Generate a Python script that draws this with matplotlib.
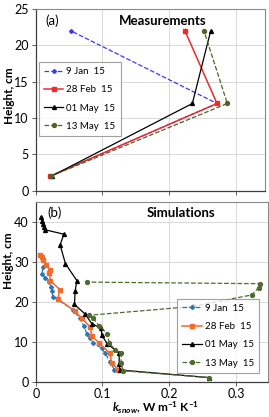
import matplotlib
matplotlib.use('Agg')
import matplotlib.pyplot as plt

plt.rcParams['font.family'] = ['Lato', 'DejaVu Sans']
plt.rcParams['mathtext.fontset'] = 'custom'
plt.rcParams['mathtext.it'] = 'Lato:italic'
plt.rcParams['mathtext.bf'] = 'Lato:bold'
plt.rcParams['mathtext.bfit'] = 'Lato:bold:italic'
plt.rcParams['mathtext.rm'] = 'Lato'

labels = ['9 Jan  15', '28 Feb  15', '01 May  15', '13 May  15']

# (a) measurements
meas_y = [2, 12, 22]
meas_jan = [0.022, 0.272, 0.053]
meas_feb = [0.022, 0.272, 0.224]
meas_may01 = [0.024, 0.235, 0.2625]
meas_may13 = [0.023, 0.2875, 0.2525]

# (b) simulations
sim_jan_x = [0.118, 0.111, 0.104, 0.099, 0.0865, 0.0815, 0.0765, 0.072, 0.066, 0.056,
             0.0255, 0.0245, 0.023, 0.0205, 0.0145, 0.0095, 0.0105]
sim_jan_y = [2.9, 5.0, 7.1, 8.3, 9.6, 10.8, 12.0, 13.9, 15.8, 18.0,
             21.2, 22.6, 23.6, 24.9, 25.9, 27.0, 28.6]
sim_feb_x = [0.124, 0.114, 0.111, 0.0955, 0.084, 0.0815, 0.069, 0.059, 0.033, 0.036,
             0.022, 0.020, 0.021, 0.016, 0.0115, 0.009, 0.0065]
sim_feb_y = [2.9, 4.6, 7.1, 9.6, 11.4, 13.7, 15.8, 17.6, 20.7, 23.0,
             25.3, 27.2, 28.0, 29.2, 30.5, 31.2, 31.8]
sim_may01_x = [0.259, 0.126, 0.125, 0.125, 0.107, 0.099, 0.098, 0.084, 0.074, 0.058,
               0.059, 0.0615, 0.0445, 0.0365, 0.042, 0.014, 0.0125, 0.0105, 0.010, 0.008]
sim_may01_y = [1.0, 2.9, 4.4, 7.1, 9.5, 11.6, 13.3, 14.5, 16.9, 19.3,
               22.6, 25.3, 29.5, 34.2, 36.9, 38.0, 38.6, 39.4, 40.1, 41.2]
sim_may13_x = [0.259, 0.131, 0.128, 0.128, 0.119, 0.110, 0.1075, 0.095, 0.0865, 0.0805,
               0.2355, 0.324, 0.334, 0.3365, 0.0765]
sim_may13_y = [1.0, 2.7, 4.6, 7.1, 8.0, 9.6, 12.0, 13.9, 15.8, 16.6,
               18.8, 21.7, 23.5, 24.5, 24.9]

fig = plt.figure(figsize=(2.69, 4.17), dpi=100)
ax1 = fig.add_axes([0.133, 0.543, 0.852, 0.435])
ax2 = fig.add_axes([0.133, 0.085, 0.863, 0.431])

lw = 0.9
ms = 2.8

def style(ax):
    ax.grid(True, color='#d9d9d9', linewidth=0.7)
    ax.set_axisbelow(True)
    for s in ['top', 'right']:
        ax.spines[s].set_color('#8a8a8a')
        ax.spines[s].set_linewidth(0.8)
    for s in ['left', 'bottom']:
        ax.spines[s].set_color('#404040')
        ax.spines[s].set_linewidth(0.9)
    ax.tick_params(direction='out', length=3, width=0.7, color='#606060',
                   labelsize=9, pad=2)

# top panel
ax1.plot(meas_jan, meas_y, color='#3b3bf0', ls='--', lw=lw, marker='D', ms=2, label=labels[0])
ax1.plot(meas_feb, meas_y, color='#ee2a2a', ls='-', lw=1.1, marker='s', ms=ms, label=labels[1])
ax1.plot(meas_may01, meas_y, color='black', ls='-', lw=lw, marker='^', ms=ms, label=labels[2])
ax1.plot(meas_may13, meas_y, color='#4f6228', ls='--', lw=lw, marker='o', ms=ms, label=labels[3])
ax1.set_xlim(0, 0.344)
ax1.set_ylim(0, 25)
ax1.set_xticks([0, 0.1, 0.2, 0.3])
ax1.set_xticklabels([])
ax1.set_yticks([0, 5, 10, 15, 20, 25])
style(ax1)
ax1.set_ylabel('Height, cm', fontsize=8.5, fontweight='bold')
ax1.yaxis.set_label_coords(-0.092, 0.525)
ax1.text(0.04, 0.936, '(a)', transform=ax1.transAxes, fontsize=9.5, va='center')
ax1.text(0.553, 0.936, 'Measurements', transform=ax1.transAxes, fontsize=9.5,
         va='center', ha='center', fontweight='bold')
leg1 = ax1.legend(loc='upper left', bbox_to_anchor=(0.012, 0.71), fontsize=7,
                  frameon=True, fancybox=False, edgecolor='#8a8a8a', numpoints=1,
                  handlelength=2.0, handletextpad=0.3, labelspacing=0.95,
                  borderpad=0.55, borderaxespad=0)
leg1.get_frame().set_linewidth(0.8)

# bottom panel
ax2.plot(sim_jan_x, sim_jan_y, color='#2e75b6', ls='--', lw=lw, marker='D', ms=2, label=labels[0])
ax2.plot(sim_feb_x, sim_feb_y, color='#f26b2a', ls='-', lw=1.1, marker='s', ms=ms, label=labels[1])
ax2.plot(sim_may01_x, sim_may01_y, color='black', ls='-', lw=lw, marker='^', ms=ms, label=labels[2])
ax2.plot(sim_may13_x, sim_may13_y, color='#4e6b2e', ls='--', lw=lw, marker='o', ms=ms, label=labels[3])
ax2.set_xlim(0, 0.348)
ax2.set_ylim(0, 45)
ax2.set_xticks([0, 0.1, 0.2, 0.3])
ax2.set_xticklabels(['0', '0.1', '0.2', '0.3'])
ax2.set_yticks([0, 10, 20, 30, 40])
style(ax2)
ax2.set_ylabel('Height, cm', fontsize=8.5, fontweight='bold')
ax2.yaxis.set_label_coords(-0.092, 0.67)
ax2.set_xlabel(r'$\mathbfit{k}_{\mathbfit{snow}}$, W m$^{\mathbf{-1}}$ K$^{\mathbf{-1}}$',
               fontsize=8.5, fontweight='bold')
ax2.xaxis.set_label_coords(0.514, -0.1)
ax2.text(0.05, 0.937, '(b)', transform=ax2.transAxes, fontsize=9.5, va='center')
ax2.text(0.625, 0.937, 'Simulations', transform=ax2.transAxes, fontsize=9.5,
         va='center', ha='center', fontweight='bold')
leg2 = ax2.legend(loc='lower left', bbox_to_anchor=(0.608, 0.048), fontsize=7,
                  frameon=True, fancybox=False, edgecolor='#8a8a8a', numpoints=1,
                  handlelength=2.0, handletextpad=0.3, labelspacing=0.95,
                  borderpad=0.55, borderaxespad=0)
leg2.get_frame().set_linewidth(0.8)

fig.savefig('out.png', dpi=100)
